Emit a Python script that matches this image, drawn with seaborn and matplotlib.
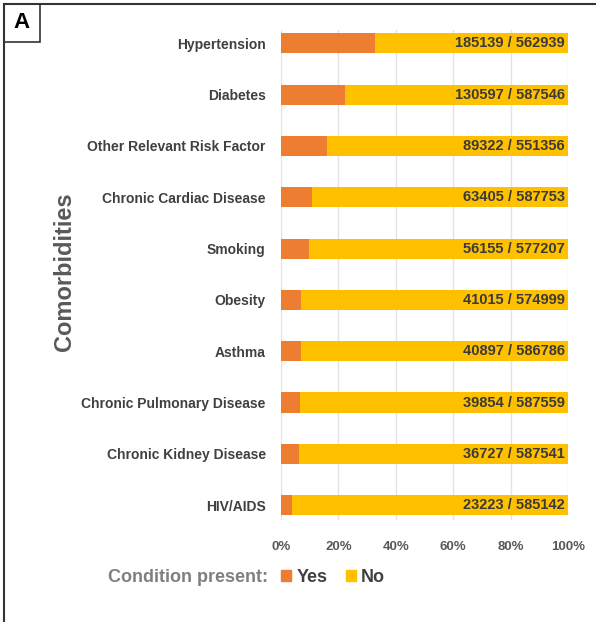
import pandas as pd
import matplotlib.pyplot as plt
import seaborn as sns
from matplotlib.patches import Patch, Rectangle
from matplotlib.lines import Line2D
from matplotlib.ticker import PercentFormatter

# Data
conditions = ["Hypertension", "Diabetes", "Other Relevant Risk Factor",
              "Chronic Cardiac Disease", "Smoking", "Obesity", "Asthma",
              "Chronic Pulmonary Disease", "Chronic Kidney Disease", "HIV/AIDS"]
yes_counts = [185139, 130597, 89322, 63405, 56155, 41015, 40897, 39854, 36727, 23223]
totals = [562939, 587546, 551356, 587753, 577207, 574999, 586786, 587559, 587541, 585142]

df = pd.DataFrame({"condition": conditions, "yes": yes_counts, "total": totals})
df["yes_pct"] = df["yes"] / df["total"] * 100
df["all_pct"] = 100.0

orange = "#ED7D31"
yellow = "#FFC000"

plt.rcParams["font.family"] = ["Liberation Sans", "DejaVu Sans"]
fig = plt.figure(figsize=(5.96, 6.22), dpi=100)
ax = fig.add_axes([281 / 596, 1 - 520 / 622, 287 / 596, 490 / 622])

sns.barplot(data=df, y="condition", x="all_pct", color=yellow, orient="h",
            width=0.39, ax=ax, saturation=1)
sns.barplot(data=df, y="condition", x="yes_pct", color=orange, orient="h",
            width=0.39, ax=ax, saturation=1)

ax.set_xlim(0, 100)
ax.set_ylim(9.29, -0.26)
ax.set_xticks([0, 20, 40, 60, 80, 100])
ax.xaxis.set_major_formatter(PercentFormatter(decimals=0))
ax.grid(axis="x", color="#e3e3e3", linewidth=1)
ax.set_axisbelow(True)
for s in ax.spines.values():
    s.set_visible(False)
ax.tick_params(length=0)
ax.tick_params(axis="y", pad=11)
ax.tick_params(axis="x", pad=15)
ax.set_xlabel("")
ax.set_ylabel("")
for lab in ax.get_yticklabels():
    lab.set_fontsize(10)
    lab.set_fontweight("bold")
    lab.set_color("#404040")
for lab in ax.get_xticklabels():
    lab.set_fontsize(9.5)
    lab.set_fontweight("bold")
    lab.set_color("#595959")

for i, row in df.iterrows():
    ax.text(98.8, i, f"{row['yes']} / {row['total']}", ha="right", va="center",
            fontsize=10.5, fontweight="bold", color="#3a3a3a")

# y label
fig.text(65 / 596, 1 - 272 / 622, "Comorbidities", rotation=90, ha="center",
         va="center", fontsize=17, fontweight="bold", color="#595959")

# legend
fig.text(268 / 596, 1 - 577 / 622, "Condition present:", ha="right", va="center",
         fontsize=13, fontweight="bold", color="#7f7f7f")
handles = [Patch(color=orange, label="Yes"), Patch(color=yellow, label="No")]
leg = fig.legend(handles=handles, loc="center left", ncol=2, frameon=False,
                 bbox_to_anchor=(265 / 596, 1 - 577 / 622),
                 handlelength=0.55, handleheight=0.55, handletextpad=0.3,
                 columnspacing=1.0, prop={"size": 13, "weight": "bold"})
for t in leg.get_texts():
    t.set_color("#404040")

# panel border and label
fig.add_artist(Line2D([4 / 596, 1], [1 - 4 / 622, 1 - 4 / 622], color="#333333", lw=1.5))
fig.add_artist(Line2D([4 / 596, 4 / 596], [0, 1 - 4 / 622], color="#333333", lw=1.5))
fig.add_artist(Rectangle((4 / 596, 1 - 42 / 622), 36 / 596, 38 / 622, fill=False,
                         edgecolor="#333333", lw=1.2, transform=fig.transFigure))
fig.text(22 / 596, 1 - 23 / 622, "A", ha="center", va="center", fontsize=16,
         fontweight="bold", color="black")

fig.savefig("out.png", dpi=100)
